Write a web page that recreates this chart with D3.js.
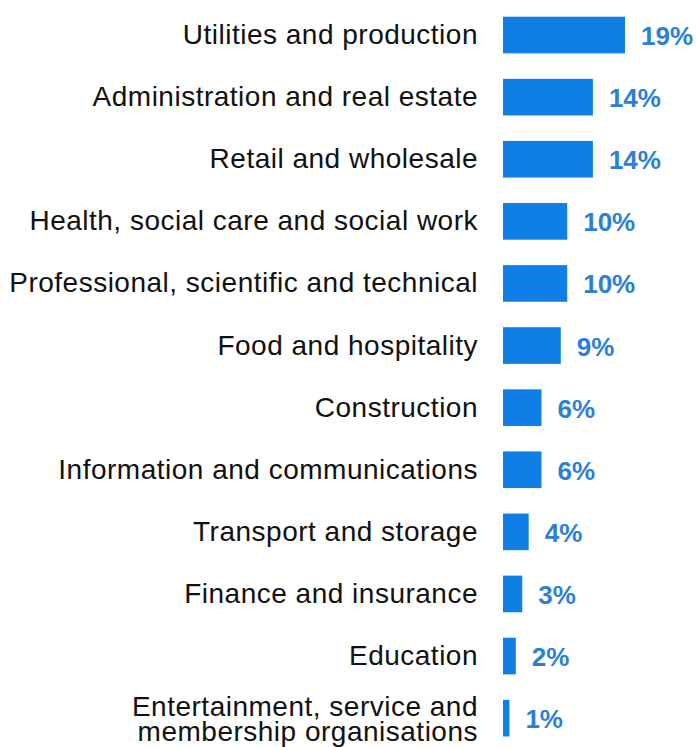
<!DOCTYPE html>
<html>
<head>
<meta charset="utf-8">
<script src="https://cdn.jsdelivr.net/npm/d3@7"></script>
<style>
  html, body { margin: 0; padding: 0; background: #ffffff; }
  svg { display: block; }
</style>
</head>
<body>
<svg id="chart" width="696" height="747"></svg>
<script>
// Share of businesses by sector (%)
const sectors = [
  ["Utilities and production"],
  ["Administration and real estate"],
  ["Retail and wholesale"],
  ["Health, social care and social work"],
  ["Professional, scientific and technical"],
  ["Food and hospitality"],
  ["Construction"],
  ["Information and communications"],
  ["Transport and storage"],
  ["Finance and insurance"],
  ["Education"],
  ["Entertainment, service and", "membership organisations"]
];
const shares = [19, 14, 14, 10, 10, 9, 6, 6, 4, 3, 2, 1];

const data = sectors.map((lines, i) => ({ lines, key: lines.join(" "), value: shares[i] }));

const svg = d3.select("#chart");
const barX = 503;
const labelX = 478;

const y = d3.scaleBand()
  .domain(data.map(d => d.key))
  .range([4, 4 + 12 * 62.1])
  .paddingInner(0.41)
  .paddingOuter(0.205);

const x = d3.scaleLinear()
  .domain([0, 19])
  .range([0, 122]);

const rows = svg.selectAll("g.row")
  .data(data)
  .join("g")
  .attr("class", "row")
  .attr("transform", d => `translate(0,${y(d.key)})`);

const mid = y.bandwidth() / 2;

rows.append("rect")
  .attr("x", barX)
  .attr("y", 0)
  .attr("width", d => x(d.value))
  .attr("height", y.bandwidth())
  .attr("fill", "#0f7fe6");

rows.append("text")
  .attr("x", d => barX + x(d.value) + 16)
  .attr("y", mid + 10)
  .attr("font-family", "Liberation Sans, Arial, sans-serif")
  .attr("font-size", 26)
  .attr("font-weight", "bold")
  .attr("fill", "#2a80d6")
  .text(d => d.value + "%");

const labels = rows.append("text")
  .attr("text-anchor", "end")
  .attr("font-family", "Liberation Sans, Arial, sans-serif")
  .attr("font-size", 28)
  .attr("letter-spacing", 0.5)
  .attr("fill", "#111111");

labels.each(function(d) {
  const t = d3.select(this);
  if (d.lines.length === 1) {
    t.append("tspan").attr("x", labelX).attr("y", mid + 9).text(d.lines[0]);
  } else {
    t.append("tspan").attr("x", labelX).attr("y", mid - 2).text(d.lines[0]);
    t.append("tspan").attr("x", labelX).attr("y", mid + 23).text(d.lines[1]);
  }
});
</script>
</body>
</html>
